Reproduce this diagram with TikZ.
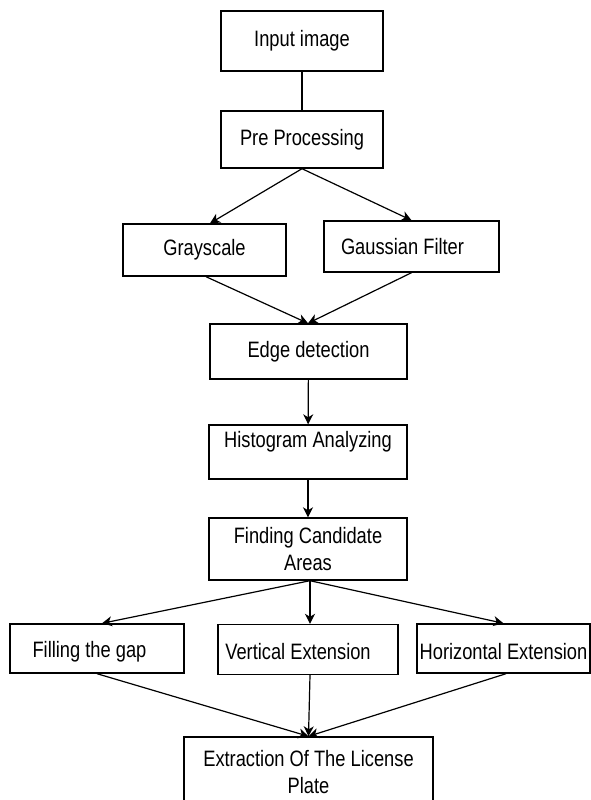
\documentclass[tikz,border=0pt]{standalone}
\usepackage{fontspec}
\setmainfont{Liberation Sans}[FakeStretch=0.82]
\usetikzlibrary{arrows.meta}

\begin{document}
\begin{tikzpicture}[->,>={Stealth[length=10pt,width=10pt,inset=3pt]},x=1pt,y=-1pt,line width=1.2pt]
    \tikzstyle{box}=[draw=black, rectangle, line width=1.4pt, inner sep=0pt, align=center, font=\fontsize{22.3}{26.5}\selectfont, text=black]
    \tikzstyle{lbl}=[inner sep=0pt, align=center, font=\fontsize{22.3}{26.5}\selectfont, text=black]
    \useasboundingbox (0,0) rectangle (590,800);

    \node[box, minimum width=162pt, minimum height=60pt] (input) at (302,41)    {Input image};
    \node[box, minimum width=162pt, minimum height=57pt] (pre)   at (302,139.5) {Pre Processing};
    \node[box, minimum width=163pt, minimum height=52pt] (gray)  at (204.5,250) {Grayscale};
    \node[box, minimum width=175pt, minimum height=51pt, label={[lbl,xshift=-9pt]center:Gaussian Filter}] (gauss) at (411.5,246.5) {};
    \node[box, minimum width=197pt, minimum height=55pt] (edge)  at (308.5,351.5) {Edge detection};
    \node[box, minimum width=198pt, minimum height=54pt, label={[lbl,yshift=10pt]center:Histogram Analyzing}] (hist) at (308,452) {};
    \node[box, minimum width=198pt, minimum height=62pt] (find)  at (308,549)   {Finding Candidate\\Areas};
    \node[box, minimum width=174pt, minimum height=49pt, label={[lbl,xshift=-7.5pt,yshift=-3.5pt]center:Filling the gap}] (fill) at (97,648.5) {};
    \node[box, minimum width=180pt, minimum height=50pt, label={[lbl,xshift=-10pt,yshift=-2.5pt]center:Vertical Extension}] (vert) at (308,649.5) {};
    \node[box, minimum width=173pt, minimum height=49pt, label={[lbl,yshift=-3.5pt]center:Horizontal Extension}] (horiz) at (503.5,648.5) {};
    \node[box, minimum width=249pt, minimum height=70pt] (extr)  at (308.5,772) {Extraction Of The License\\Plate};

    \draw[-] (input) -- (pre);
    \path
     (pre.south)  edge[] ([xshift=5.5pt]gray.north)
     (pre.south)  edge[] (gauss.north)
     ([xshift=1.5pt]gray.south) edge[] ([xshift=-0.5pt]edge.north)
     (gauss.south) edge[] ([xshift=-0.5pt]edge.north)
     (edge)  edge[] (hist)
     (hist)  edge[] (find)
     ([xshift=2pt]find.south) edge[] ([xshift=5pt]fill.north)
     ([xshift=2pt]find.south) edge[] ([xshift=2pt]vert.north)
     ([xshift=2pt]find.south) edge[] (horiz.north)
     (fill.south)  edge[] (extr.north)
     ([xshift=2pt]vert.south) edge[] (extr.north)
     ([xshift=2.5pt]horiz.south) edge[] (extr.north)
     ;
\end{tikzpicture}
\end{document}
